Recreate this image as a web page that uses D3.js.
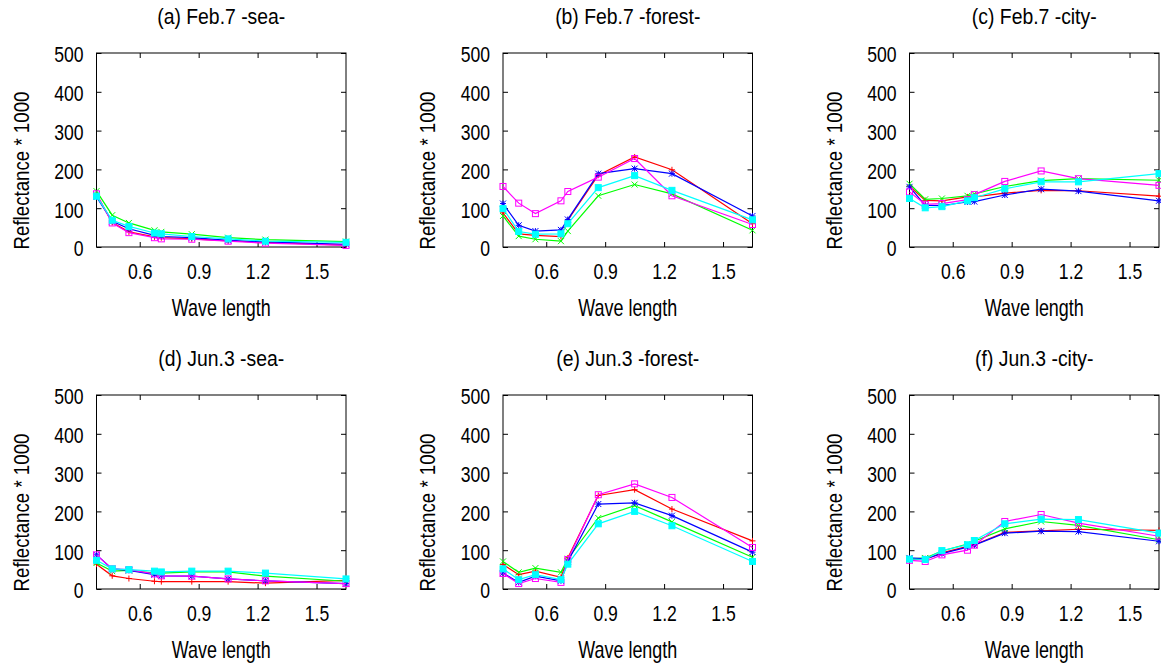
<!DOCTYPE html>
<html>
<head>
<meta charset="utf-8">
<script src="https://cdn.jsdelivr.net/npm/d3@7"></script>
<style>
  body { margin: 0; background: #fff; }
  text { font-family: "Liberation Sans", Arial, sans-serif; fill: #000; }
</style>
</head>
<body>
<div class="chart"></div>
<script>
var wavelengths = [0.38, 0.46, 0.545, 0.675, 0.71, 0.865, 1.05, 1.24, 1.65];
var xTicks = [0.6, 0.9, 1.2, 1.5];
var yTicks = [0, 100, 200, 300, 400, 500];
var titles = ['(a) Feb.7 -sea-', '(b) Feb.7 -forest-', '(c) Feb.7 -city-',
              '(d) Jun.3 -sea-', '(e) Jun.3 -forest-', '(f) Jun.3 -city-'];
var colors = ['#ff0000', '#00ff00', '#0000ff', '#ff00ff', '#00ffff'];
var markers = ['plus', 'cross', 'star', 'square', 'filled'];

// each panel: red, green, blue, magenta, cyan
var feb7Sea = [
    [136, 63, 39, 26, 24, 21, 16, 12, 5],
    [144, 82, 62, 43, 39, 33, 24, 19, 14],
    [129, 66, 47, 30, 27, 24, 17, 13, 7],
    [137, 62, 37, 24, 21, 20, 15, 10, 4],
    [131, 69, 53, 36, 34, 27, 21, 15, 12]
];
var feb7Forest = [
    [88, 34, 30, 27, 69, 185, 232, 199, 60],
    [80, 28, 20, 15, 41, 132, 161, 137, 43],
    [112, 56, 41, 44, 71, 189, 202, 189, 80],
    [156, 113, 86, 119, 143, 180, 228, 132, 58],
    [99, 40, 33, 34, 60, 153, 184, 146, 70]
];
var feb7City = [
    [157, 120, 119, 129, 129, 139, 146, 145, 131],
    [163, 123, 125, 132, 137, 156, 171, 176, 172],
    [155, 107, 107, 116, 117, 134, 149, 144, 119],
    [142, 110, 112, 122, 135, 169, 196, 176, 159],
    [125, 101, 104, 119, 127, 150, 168, 168, 189]
];
var jun3Sea = [
    [64, 34, 27, 20, 19, 19, 19, 15, 22],
    [67, 46, 48, 41, 41, 44, 44, 33, 20],
    [88, 52, 48, 37, 34, 33, 26, 21, 14],
    [88, 52, 50, 39, 34, 33, 26, 21, 14],
    [74, 52, 50, 46, 44, 46, 46, 41, 26]
];
var jun3Forest = [
    [63, 37, 46, 30, 80, 241, 256, 206, 124],
    [71, 43, 54, 43, 78, 183, 215, 173, 82],
    [41, 17, 33, 21, 71, 219, 222, 189, 95],
    [40, 14, 27, 17, 76, 243, 271, 236, 107],
    [52, 24, 37, 24, 64, 168, 200, 163, 71]
];
var jun3City = [
    [76, 76, 93, 110, 114, 146, 150, 154, 151],
    [78, 80, 98, 116, 123, 155, 174, 164, 127],
    [80, 78, 91, 108, 113, 144, 149, 148, 123],
    [74, 71, 88, 100, 113, 174, 192, 170, 136],
    [77, 76, 99, 114, 125, 168, 180, 179, 144]
];
var panels = [feb7Sea, feb7Forest, feb7City, jun3Sea, jun3Forest, jun3City];

var W = 1161, H = 665;
var plotW = 249.5, plotH = 194;

var svg = d3.select('.chart')
    .append('svg')
    .attr('width', W)
    .attr('height', H);

var x = d3.scaleLinear()
    .domain(d3.extent(wavelengths))
    .range([0, plotW]);
var y = d3.scaleLinear()
    .domain([0, 500])
    .range([plotH, 0]);

var line = d3.line()
    .x((d, i) => x(wavelengths[i]))
    .y(d => y(d));

// the original uses a narrow font, squeeze the text horizontally
function narrow(sel, k) {
    sel.each(function () {
        var t = d3.select(this);
        var tx = +t.attr('x') || 0, ty = +t.attr('y') || 0;
        t.attr('x', 0).attr('y', 0)
            .attr('transform', `translate(${tx},${ty}) scale(${k},1)`);
    });
}

function drawMarker(g, type, color) {
    var r = 3;
    if (type === 'plus') {
        g.append('path').attr('d', `M${-r},0H${r}M0,${-r}V${r}`);
    } else if (type === 'cross') {
        g.append('path').attr('d', `M${-r},${-r}L${r},${r}M${-r},${r}L${r},${-r}`);
    } else if (type === 'star') {
        g.append('path').attr('d', `M${-r},0H${r}M0,${-r}V${r}M${-r},${-r}L${r},${r}M${-r},${r}L${r},${-r}`);
    } else if (type === 'square') {
        g.append('rect').attr('x', -r).attr('y', -r).attr('width', 2 * r).attr('height', 2 * r)
            .attr('fill', 'none');
    } else {
        g.append('rect').attr('x', -r).attr('y', -r).attr('width', 2 * r).attr('height', 2 * r)
            .attr('fill', color);
    }
    g.selectAll('path, rect').attr('stroke', color).attr('stroke-width', 1);
}

panels.forEach(function (series, p) {
    var col = p % 3, row = Math.floor(p / 3);
    var g = svg.append('g')
        .attr('transform', `translate(${96.5 + col * 406.5}, ${53 + row * 342})`);

    // ticks, mirrored on all sides, pointing inward
    var yAxis = d3.axisLeft(y).tickValues(yTicks).tickSize(-5).tickPadding(13);
    var yAxisR = d3.axisRight(y).tickValues(yTicks).tickSize(-5).tickFormat('');
    var xAxis = d3.axisBottom(x).tickValues(xTicks).tickSize(-5).tickPadding(16)
        .tickFormat(d3.format('.1f'));
    var xAxisT = d3.axisTop(x).tickValues(xTicks).tickSize(-5).tickFormat('');

    g.append('g').call(yAxis);
    g.append('g').attr('transform', `translate(${plotW},0)`).call(yAxisR);
    g.append('g').attr('transform', `translate(0,${plotH})`).call(xAxis);
    g.append('g').call(xAxisT);
    g.selectAll('.domain').remove();
    g.selectAll('.tick line').attr('stroke', '#000');
    g.selectAll('.tick text')
        .style('font-family', '"Liberation Sans", Arial, sans-serif')
        .style('font-size', '22px');
    g.selectAll('.tick text').filter(function () { return d3.select(this).attr('dy') === '0.32em'; })
        .attr('dy', '0.4em');
    narrow(g.selectAll('.tick text'), 0.8);

    g.append('rect')
        .attr('width', plotW)
        .attr('height', plotH)
        .attr('fill', 'none')
        .attr('stroke', '#000')
        .attr('stroke-width', 1);

    series.forEach(function (vals, s) {
        g.append('path')
            .datum(vals)
            .attr('d', line)
            .attr('fill', 'none')
            .attr('stroke', colors[s])
            .attr('stroke-width', 1.2);
        vals.forEach(function (v, i) {
            var m = g.append('g')
                .attr('transform', `translate(${x(wavelengths[i])}, ${y(v)})`);
            drawMarker(m, markers[s], colors[s]);
        });
    });

    g.append('text')
        .attr('transform', `translate(${plotW / 2}, -29.5) scale(0.88,1)`)
        .attr('text-anchor', 'middle')
        .style('font-size', '22px')
        .text(titles[p]);

    g.append('text')
        .attr('transform', `translate(${plotW / 2}, ${plotH + 68.5}) scale(0.78,1)`)
        .attr('text-anchor', 'middle')
        .style('font-size', '23px')
        .text('Wave length');

    g.append('text')
        .attr('transform', `translate(-68, ${plotH + 2.5}) rotate(-90) scale(0.85,1)`)
        .attr('text-anchor', 'start')
        .style('font-size', '22px')
        .text('Reflectance * 1000');
});
</script>
</body>
</html>
